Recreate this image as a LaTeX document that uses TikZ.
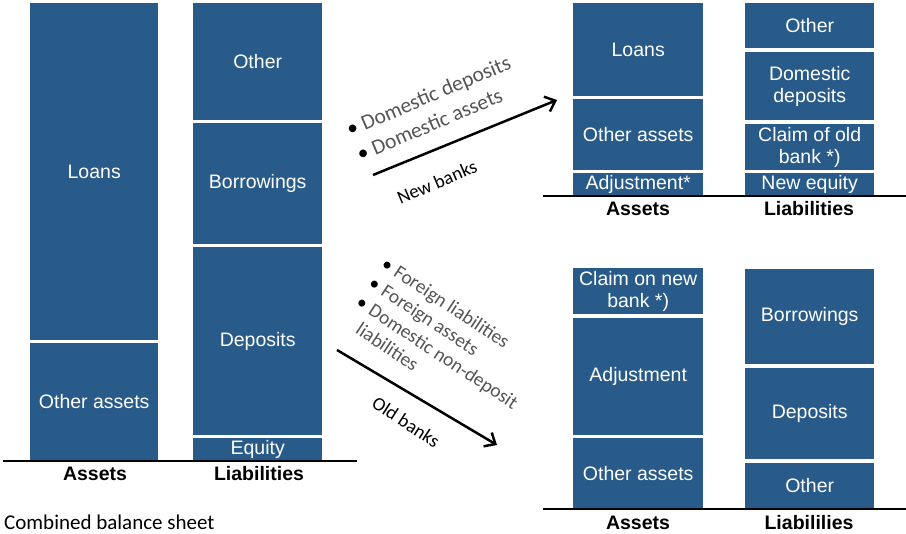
\documentclass[tikz,border=0pt]{standalone}
\usepackage{fontspec}
\setmainfont{Liberation Sans}
\newfontfamily\calib{Carlito}
\usetikzlibrary{arrows.meta}
\definecolor{boxblue}{RGB}{41,91,138}
\definecolor{listgray}{RGB}{85,85,85}
\newcommand{\sheetbox}[6]{\node[box,minimum width={(#4-#2)*1pt},minimum height={(#5-#3)*1pt}] (#1) at (#2,#3) {#6};}
\newcommand{\blt}[1]{\makebox[#1][l]{\color{black}•}}
\begin{document}
\begin{tikzpicture}[x=1pt,y=-1pt,
  box/.style={fill=boxblue,text=white,inner sep=0pt,align=center,anchor=north west,
    font=\fontsize{19.5}{22}\selectfont},
  collabel/.style={font=\bfseries\fontsize{19.5}{21}\selectfont},
  groundline/.style={line width=2.5pt,black},
  flowarrow/.style={line width=2.5pt,-{Straight Barb[length=9pt,width=16pt,line width=2.5pt]}},
  listnode/.style={text=listgray,inner sep=0pt,anchor=base west},
  arrowlabel/.style={font=\calib\fontsize{19}{21}\selectfont,text=black,inner sep=0pt}]
\useasboundingbox (0,0) rectangle (906,534);
\fill[white] (0,0) rectangle (906,534);

% combined balance sheet
\sheetbox{cLoans}{30}{3}{158}{340}{Loans}
\sheetbox{cOther}{30}{343}{158}{460}{Other assets}
\sheetbox{cLOther}{193}{3}{322}{120}{Other}
\sheetbox{cBorr}{193}{123}{322}{244}{Borrowings}
\sheetbox{cDep}{193}{247}{322}{435}{Deposits}
\sheetbox{cEq}{193}{438}{322}{460}{Equity}
\draw[groundline] (3,461) -- (357,461);
\node[collabel] (cA) at (95,474) {Assets};
\node[collabel] (cL) at (259,474) {Liabilities};
\node[font=\calib\fontsize{21}{23}\selectfont,anchor=west,inner sep=0pt] (title) at (4,522) {Combined balance sheet};

% new banks
\sheetbox{nLoans}{573}{3}{703}{96}{Loans}
\sheetbox{nOther}{573}{99}{703}{170}{Other assets}
\sheetbox{nAdj}{573}{173}{703}{195}{Adjustment*}
\sheetbox{nLOther}{745}{3}{874}{48}{Other}
\sheetbox{nDom}{745}{52}{874}{120}{Domestic\\deposits}
\sheetbox{nClaim}{745}{124}{874}{170}{Claim of old\\bank *)}
\sheetbox{nEq}{745}{173}{874}{195}{New equity}
\draw[groundline] (543,196) -- (906,196);
\node[collabel] (nA) at (638,209) {Assets};
\node[collabel] (nL) at (809,209) {Liabilities};

% old banks
\sheetbox{oClaim}{573}{268}{703}{314}{Claim on new\\bank *)}
\sheetbox{oAdj}{573}{318}{703}{435}{Adjustment}
\sheetbox{oOther}{573}{438}{703}{508}{Other assets}
\sheetbox{oBorr}{745}{269}{874}{364}{Borrowings}
\sheetbox{oDep}{745}{368}{874}{459}{Deposits}
\sheetbox{oLOther}{745}{463}{874}{508}{Other}
\draw[groundline] (543,509) -- (906,509);
\node[collabel] (oA) at (638,523) {Assets};
\node[collabel] (oL) at (809,523) {Liabililies};

% arrows
\coordinate (nbStart) at (373,175);
\coordinate (nbEnd) at (557,100);
\draw[flowarrow] (nbStart) -- (nbEnd);
\coordinate (obStart) at (337,350);
\coordinate (obEnd) at (497,445);
\draw[flowarrow] (obStart) -- (obEnd);
\node[arrowlabel,rotate=23] (nbLabel) at (437,182) {New banks};
\node[arrowlabel,rotate=-33] (obLabel) at (406,422) {Old banks};

% lists
\node[listnode,rotate=23,font=\calib\fontsize{21.5}{27}\selectfont] (nbList) at (350,137)
  {\begin{tabular}[t]{@{}l@{}}\blt{16pt}Domestic deposits\\ \blt{16pt}Domestic assets\end{tabular}};
\node[listnode,rotate=-33.5,font=\calib\fontsize{19.5}{23}\selectfont] (obList) at (380,267)
  {\begin{tabular}[t]{@{}l@{}}\blt{15pt}Foreign liabilities\\ \blt{15pt}Foreign assets\\ \blt{15pt}Domestic non-deposit\\ \hspace*{15pt}liabilities\end{tabular}};
\end{tikzpicture}
\end{document}
